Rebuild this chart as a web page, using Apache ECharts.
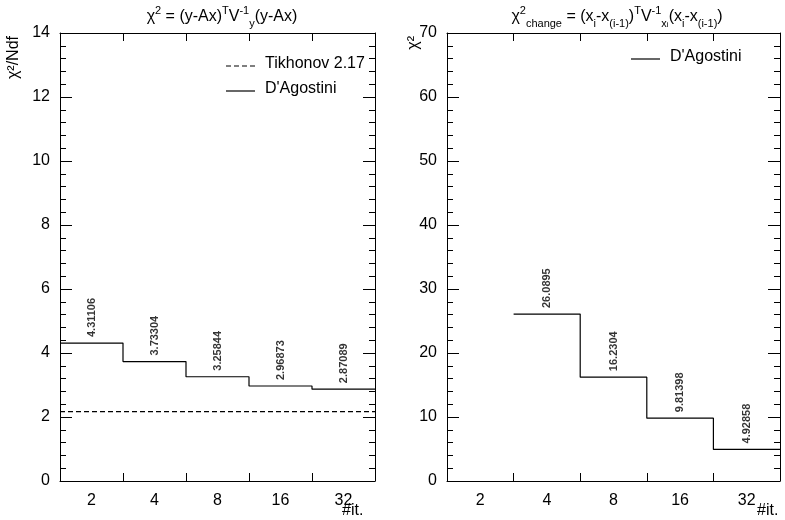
<!DOCTYPE html>
<html><head><meta charset="utf-8">
<script src="https://cdn.jsdelivr.net/npm/echarts@6/dist/echarts.min.js"></script>
<style>html,body{margin:0;padding:0;background:#fff}#c{width:785px;height:520px}</style>
</head><body><div id="c"></div>
<script>
const categories = ['2','4','8','16','32'];
const chi2Ndf = [4.31106, 3.73304, 3.25844, 2.96873, 2.87089];
const chi2NdfLabels = ['4.31106','3.73304','3.25844','2.96873','2.87089'];
const tikhonov = 2.17;
const chi2Change = [null, 26.0895, 16.2304, 9.81398, 4.92858];
const chi2ChangeLabels = ['', '26.0895','16.2304','9.81398','4.92858'];

const F = 'Liberation Sans, Arial, sans-serif';
function stepData(vals){
  const d=[]; let last=null;
  vals.forEach((v,i)=>{ if(v!==null){ d.push([i,v]); last=v; } });
  d.push([vals.length,last]); return d;
}
function labelData(vals,labels){
  const d=[]; vals.forEach((v,i)=>{ if(v!==null) d.push({value:[i+0.5,v],label:{formatter:labels[i]}}); }); return d;
}
function yAx(gi,max,interval,pos,show){
  return {type:'value',gridIndex:gi,min:0,max:max,interval:interval,position:pos,
    axisLine:{show:true,lineStyle:{color:'#000'}},
    axisTick:{show:true,inside:true,length:12,lineStyle:{color:'#000'}},
    minorTick:{show:true,splitNumber:5,length:6,lineStyle:{color:'#000'}},
    axisLabel:{show:show,color:'#000',fontSize:16,fontFamily:F,margin:10},
    splitLine:{show:false}};
}
function xCat(gi,pos,show){
  return {type:'category',gridIndex:gi,data:categories,position:pos,boundaryGap:true,
    axisLine:{show:true,lineStyle:{color:'#000'}},
    axisTick:{show:true,inside:true,length:8,lineStyle:{color:'#000'}},
    axisLabel:{show:show,color:'#000',fontSize:16,fontFamily:F,margin:12}};
}
function xVal(gi){ return {type:'value',gridIndex:gi,min:0,max:5,show:false}; }
const lbl={show:true,position:'top',rotate:90,distance:6,fontSize:11,fontWeight:'bold',fontFamily:F,color:'#000',align:'left',verticalAlign:'middle'};
const rich={
  t:{fontSize:16,fontFamily:F,color:'#000',fontWeight:'normal',lineHeight:24,verticalAlign:'middle'},
  s:{fontSize:11,fontFamily:F,color:'#000',fontWeight:'normal',lineHeight:24,verticalAlign:'top'},
  b:{fontSize:11,fontFamily:F,color:'#000',fontWeight:'normal',lineHeight:24,verticalAlign:'bottom'},
  bb:{fontSize:8,fontFamily:F,color:'#000',fontWeight:'normal',lineHeight:24,verticalAlign:'bottom'}
};
const option={
  animation:false,
  grid:[{left:60,right:410,top:33,bottom:39},{left:447,right:5,top:33,bottom:39}],
  xAxis:[xVal(0),xCat(0,'bottom',true),xCat(0,'top',false),xVal(1),xCat(1,'bottom',true),xCat(1,'top',false)],
  yAxis:[yAx(0,14,2,'left',true),yAx(0,14,2,'right',false),yAx(1,70,10,'left',true),yAx(1,70,10,'right',false)],
  title:[
    {text:'{t|χ}{s|2}{t| = (y-Ax)}{s|T}{t|V}{s|-1}{b|y}{t|(y-Ax)}',left:217,top:0,textAlign:'center',textStyle:{fontWeight:'normal',rich:rich}},
    {text:'{t|χ}{s|2}{b|change}{t| = (x}{b|i}{t|-x}{b|(i-1)}{t|)}{s|T}{t|V}{s|-1}{b|x}{bb|i}{t|(x}{b|i}{t|-x}{b|(i-1)}{t|)}',left:612,top:0,textAlign:'center',textStyle:{fontWeight:'normal',rich:rich}}
  ],
  graphic:[
    {type:'text',x:6,y:36,rotation:Math.PI/2,style:{text:'χ²/Ndf',fontSize:16,fontFamily:F,fill:'#000',align:'right',verticalAlign:'top'}},
    {type:'text',x:406,y:36,rotation:Math.PI/2,style:{text:'χ²',fontSize:16,fontFamily:F,fill:'#000',align:'right',verticalAlign:'top'}},
    {type:'text',left:342,top:503,style:{text:'#it.',fontSize:16,fontFamily:F,fill:'#000'}},
    {type:'text',left:757,top:503,style:{text:'#it.',fontSize:16,fontFamily:F,fill:'#000'}},
    {type:'line',shape:{x1:226,y1:66,x2:255,y2:66},style:{stroke:'#000',lineWidth:1.2,lineDash:[5,3]}},
    {type:'text',left:265,top:56,style:{text:'Tikhonov 2.17',fontSize:16,fontFamily:F,fill:'#000'}},
    {type:'line',shape:{x1:226,y1:91,x2:255,y2:91},style:{stroke:'#000',lineWidth:1.2}},
    {type:'text',left:265,top:81,style:{text:"D'Agostini",fontSize:16,fontFamily:F,fill:'#000'}},
    {type:'line',shape:{x1:631,y1:59,x2:660,y2:59},style:{stroke:'#000',lineWidth:1.2}},
    {type:'text',left:670,top:49,style:{text:"D'Agostini",fontSize:16,fontFamily:F,fill:'#000'}}
  ],
  series:[
    {type:'line',xAxisIndex:0,yAxisIndex:0,data:[[0,tikhonov],[5,tikhonov]],symbol:'none',lineStyle:{color:'#000',width:1.2,type:[5,3]}},
    {type:'line',xAxisIndex:0,yAxisIndex:0,step:'end',data:stepData(chi2Ndf),symbol:'none',lineStyle:{color:'#000',width:1.2}},
    {type:'scatter',xAxisIndex:0,yAxisIndex:0,data:labelData(chi2Ndf,chi2NdfLabels),symbolSize:0,label:lbl},
    {type:'line',xAxisIndex:3,yAxisIndex:2,step:'end',data:stepData(chi2Change),symbol:'none',lineStyle:{color:'#000',width:1.2}},
    {type:'scatter',xAxisIndex:3,yAxisIndex:2,data:labelData(chi2Change,chi2ChangeLabels),symbolSize:0,label:lbl}
  ]
};
echarts.init(document.getElementById('c')).setOption(option);
</script></body></html>
